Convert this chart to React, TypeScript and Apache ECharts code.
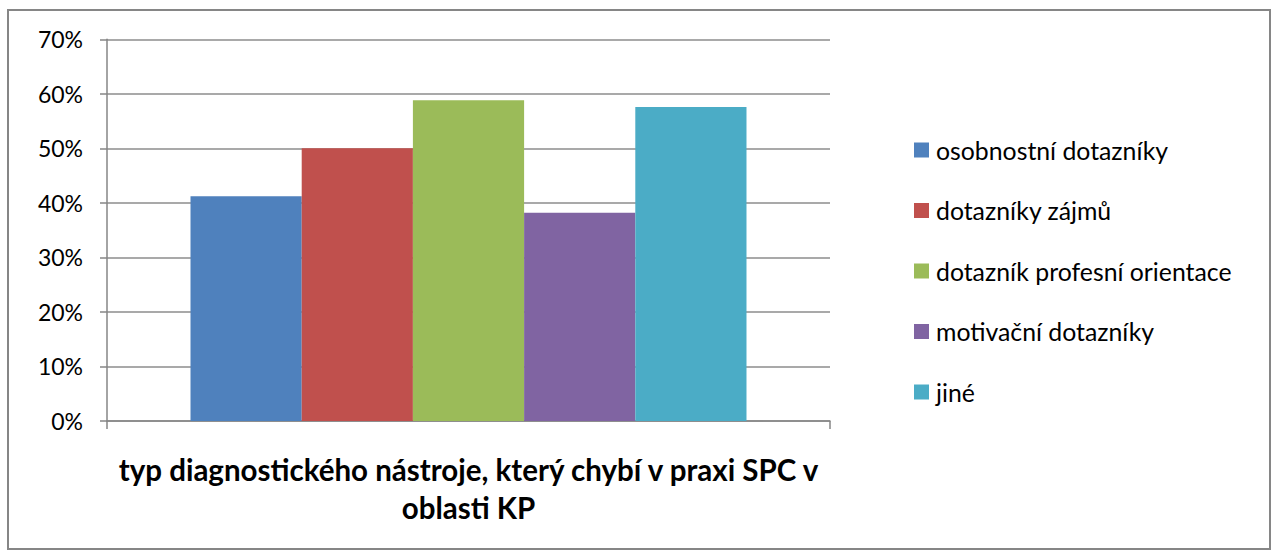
import React, { useEffect, useRef } from "react";
import * as echarts from "echarts";

const categories = ["typ diagnostického nástroje, který chybí v praxi SPC v\noblasti KP"];
const seriesNames = [
  "osobnostní dotazníky",
  "dotazníky zájmů",
  "dotazník profesní orientace",
  "motivační dotazníky",
  "jiné",
];
const seriesValues = [41.2, 50.0, 58.8, 38.2, 57.6];
const seriesColors = ["#4F81BD", "#C0504D", "#9BBB59", "#8064A2", "#4BACC6"];
const yTicks = { min: 0, max: 70, interval: 10 };

const FONT = "Lato, 'Open Sans', sans-serif";

export default function App() {
  const ref = useRef<HTMLDivElement>(null);
  useEffect(() => {
    if (!ref.current) return;
    const chart = echarts.init(ref.current, undefined, { renderer: "svg" });
    chart.setOption({
      animation: false,
      backgroundColor: "#ffffff",
      textStyle: { fontFamily: FONT },
      graphic: [
        {
          type: "rect",
          shape: { x: 8, y: 10, width: 1262, height: 539 },
          style: { fill: "none", stroke: "#868686", lineWidth: 2 },
          silent: true,
        },
      ],
      grid: { left: 107, right: 449, top: 39.3, bottom: 130, containLabel: false },
      legend: {
        orient: "vertical",
        left: 914,
        top: 137.5,
        padding: 0,
        itemWidth: 15,
        itemHeight: 15,
        itemGap: 35.5,
        icon: "rect",
        data: seriesNames,
        textStyle: { fontFamily: FONT, fontSize: 24.8, color: "#000", padding: [0, 0, 0, 2] },
      },
      xAxis: {
        type: "category",
        data: [""],
        name: categories[0],
        nameLocation: "middle",
        nameGap: 29,
        nameTextStyle: {
          fontFamily: FONT,
          fontSize: 29.5,
          fontWeight: "bold",
          color: "#000",
          lineHeight: 38,
          verticalAlign: "top",
        },
        axisLine: { lineStyle: { color: "#868686", width: 1.5 } },
        axisTick: { show: true, length: 8, lineStyle: { color: "#868686", width: 1.5 } },
        axisLabel: { show: false },
      },
      yAxis: {
        type: "value",
        min: yTicks.min,
        max: yTicks.max,
        interval: yTicks.interval,
        axisLine: { show: true, lineStyle: { color: "#868686", width: 1.5 } },
        axisTick: { show: true, length: 7, lineStyle: { color: "#868686", width: 1.5 } },
        axisLabel: {
          formatter: (v: number) => `${v}%`,
          fontFamily: FONT,
          fontSize: 23,
          color: "#000",
          margin: 24,
        },
        splitLine: { lineStyle: { color: "#8c8c8c", width: 1.5 } },
      },
      series: seriesNames.map((name, i) => ({
        name,
        type: "bar",
        data: [seriesValues[i]],
        barGap: 0,
        barCategoryGap: "23.1%",
        itemStyle: { color: seriesColors[i] },
      })),
    });
    return () => chart.dispose();
  }, []);
  return (
    <div
      ref={ref}
      style={{ position: "absolute", left: 0, top: 0, width: 1279, height: 551 }}
    />
  );
}
